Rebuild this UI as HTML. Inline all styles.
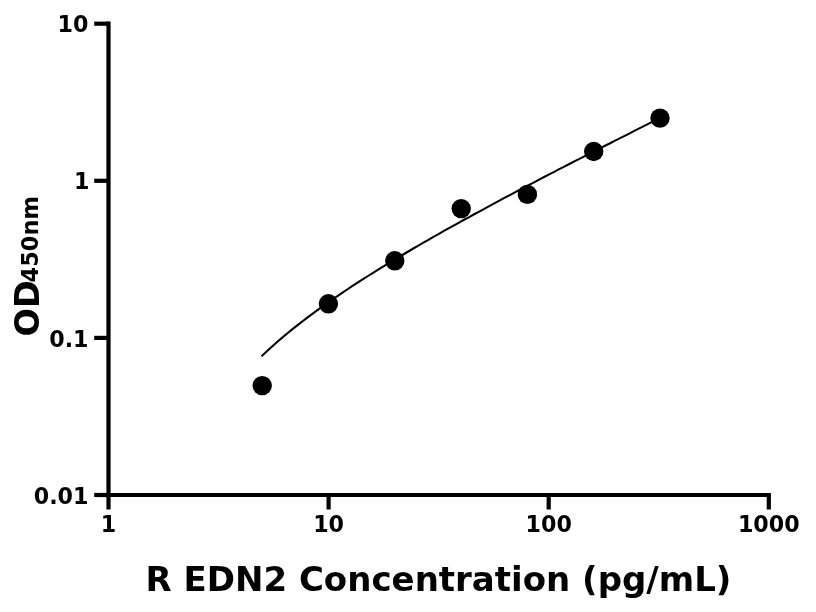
<!DOCTYPE html>
<html><head><meta charset="utf-8"><title>chart</title>
<style>
html,body{margin:0;padding:0;background:#fff;}
svg{display:block;}
text{font-family:"DejaVu Sans","Liberation Sans",sans-serif;font-weight:bold;fill:#000;}
</style></head><body>
<svg width="816" height="612" viewBox="0 0 816 612">
<rect width="816" height="612" fill="#fff"/>
<g stroke="#000" stroke-width="4.2" fill="none" stroke-linecap="butt">
<path d="M108.5,21.6 L108.5,497.1"/>
<path d="M106.4,495.0 L770.9,495.0"/>
<line x1="108.5" y1="495.0" x2="108.5" y2="509.5"/><line x1="328.6" y1="495.0" x2="328.6" y2="509.5"/><line x1="548.7" y1="495.0" x2="548.7" y2="509.5"/><line x1="768.8" y1="495.0" x2="768.8" y2="509.5"/>
<line x1="94.2" y1="495.0" x2="108.5" y2="495.0"/><line x1="94.2" y1="337.9" x2="108.5" y2="337.9"/><line x1="94.2" y1="180.8" x2="108.5" y2="180.8"/><line x1="94.2" y1="23.7" x2="108.5" y2="23.7"/>
</g>
<path d="M262.3,355.5 L267.4,350.7 L272.4,346.2 L277.4,341.7 L282.5,337.4 L287.5,333.2 L292.5,329.1 L297.6,325.1 L302.6,321.2 L307.6,317.4 L312.7,313.6 L317.7,309.9 L322.7,306.3 L327.8,302.7 L332.8,299.2 L337.8,295.8 L342.9,292.4 L347.9,289.0 L352.9,285.7 L358.0,282.4 L363.0,279.2 L368.0,276.0 L373.1,272.8 L378.1,269.7 L383.1,266.6 L388.1,263.5 L393.2,260.5 L398.2,257.4 L403.2,254.5 L408.3,251.5 L413.3,248.5 L418.3,245.6 L423.4,242.7 L428.4,239.8 L433.4,236.9 L438.5,234.1 L443.5,231.2 L448.5,228.4 L453.6,225.6 L458.6,222.8 L463.6,220.0 L468.7,217.3 L473.7,214.5 L478.7,211.8 L483.8,209.1 L488.8,206.3 L493.8,203.6 L498.9,200.9 L503.9,198.2 L508.9,195.6 L514.0,192.9 L519.0,190.2 L524.0,187.6 L529.0,184.9 L534.1,182.3 L539.1,179.7 L544.1,177.0 L549.2,174.4 L554.2,171.8 L559.2,169.2 L564.3,166.6 L569.3,164.0 L574.3,161.4 L579.4,158.8 L584.4,156.3 L589.4,153.7 L594.5,151.1 L599.5,148.6 L604.5,146.0 L609.6,143.5 L614.6,140.9 L619.6,138.4 L624.7,135.8 L629.7,133.3 L634.7,130.7 L639.8,128.2 L644.8,125.7 L649.8,123.1 L654.9,120.6 L659.9,118.1" stroke="#000" stroke-width="2.05" fill="none" stroke-linecap="square" stroke-linejoin="round"/>
<g fill="#000"><circle cx="262.2" cy="385.6" r="9.7"/><circle cx="328.4" cy="303.8" r="9.7"/><circle cx="394.8" cy="260.8" r="9.7"/><circle cx="461.2" cy="208.6" r="9.7"/><circle cx="527.4" cy="194.4" r="9.7"/><circle cx="593.7" cy="151.5" r="9.7"/><circle cx="660" cy="118.1" r="9.7"/></g>
<g font-size="22.2px"><text x="108.5" y="531.7" text-anchor="middle">1</text><text x="328.6" y="531.7" text-anchor="middle">10</text><text x="548.7" y="531.7" text-anchor="middle">100</text><text x="768.8" y="531.7" text-anchor="middle">1000</text><text x="88.5" y="503.6" text-anchor="end">0.01</text><text x="88.5" y="346.6" text-anchor="end">0.1</text><text x="89.4" y="188.9" text-anchor="end">1</text><text x="88.5" y="32.1" text-anchor="end">10</text></g>
<text x="145.5" y="590.6" font-size="34px">R EDN2 Concentration (pg/mL)</text>
<text transform="translate(38.9,336.4) rotate(-90)" font-size="33.5px">OD<tspan font-size="22.5px" dy="-0.6" dx="-2.4">450nm</tspan></text>
</svg>
</body></html>
